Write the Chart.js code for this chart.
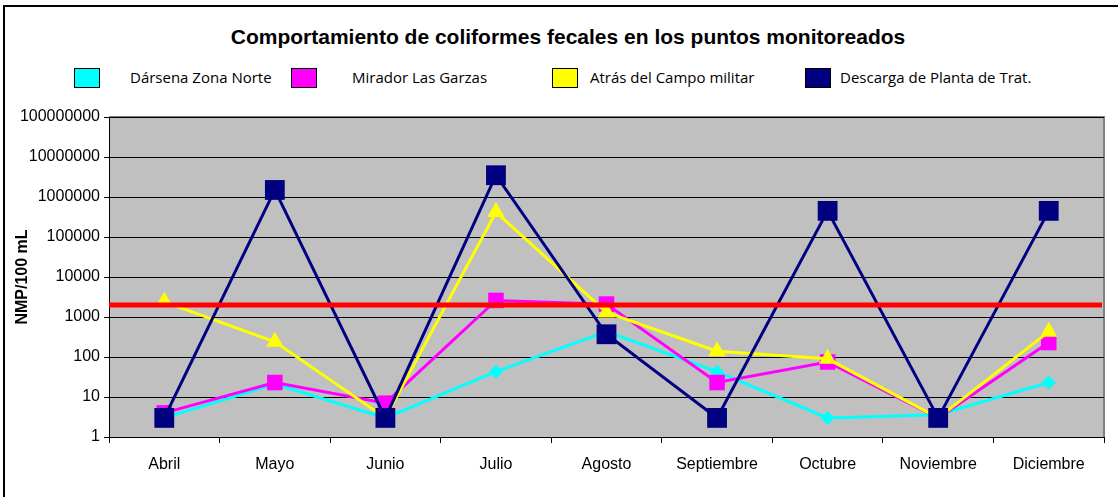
<!DOCTYPE html>
<html>
<head>
<meta charset="utf-8">
<script src="https://cdn.jsdelivr.net/npm/chart.js@4.4.0/dist/chart.umd.min.js"></script>
<style>
  html, body { margin: 0; padding: 0; background: #fff; }
  #wrap { position: relative; width: 1118px; height: 497px; overflow: hidden; }
  #frame { position: absolute; left: 3px; top: 5px; width: 1130px; height: 510px; border-left: 2px solid #000; border-top: 2px solid #000; }
  #title { position: absolute; left: 0; width: 1136px; top: 25px; text-align: center;
           font: bold 21px "Liberation Sans", Arial, sans-serif; color: #000; }
  .leg { position: absolute; top: 67px; font: 15px "Open Sans", "DejaVu Sans", sans-serif; color: #000; white-space: nowrap; }
  .leg i { position: absolute; top: 1px; width: 26px; height: 20px; border: 1px solid #000; box-sizing: border-box; }
  canvas { position: absolute; left: 0; top: 0; }
</style>
</head>
<body>
<div id="wrap">
  <div id="frame"></div>
  <div id="title">Comportamiento de coliformes fecales en los puntos monitoreados</div>
  <div id="legend"></div>
  <canvas id="myChart" width="1118" height="497"></canvas>
</div>
<script>
const meses = ['Abril', 'Mayo', 'Junio', 'Julio', 'Agosto', 'Septiembre', 'Octubre', 'Noviembre', 'Diciembre'];

const darsena = [3, 21, 3, 43, 430, 43, 3, 3.6, 23];
const mirador = [4, 23, 7, 2600, 2100, 23, 75, 3, 230];
const campo = [2400, 240, 3, 420000, 1300, 140, 90, 3, 430];
const descarga = [3, 1500000, 3, 3500000, 370, 3, 450000, 3, 450000];

const limite = 2000;
const yTicks = [1, 10, 100, 1000, 10000, 100000, 1000000, 10000000, 100000000];

const nombres = ['Dársena Zona Norte', 'Mirador Las Garzas', 'Atrás del Campo militar', 'Descarga de Planta de Trat.'];
const colores = ['#00FFFF', '#FF00FF', '#FFFF00', '#000080'];

// legend, html so the spacing matches the excel one
const legX = [[74, 130], [291, 352], [552, 590], [805, 840]];
const legend = document.getElementById('legend');
nombres.forEach((n, i) => {
    const d = document.createElement('div');
    d.className = 'leg';
    d.style.left = legX[i][1] + 'px';
    d.textContent = n;
    const b = document.createElement('i');
    b.style.left = (legX[i][0] - legX[i][1]) + 'px';
    b.style.background = colores[i];
    d.appendChild(b);
    legend.appendChild(d);
});

const lineaLimite = {
    id: 'lineaLimite',
    afterDatasetsDraw(chart) {
        const ctx = chart.ctx;
        const a = chart.chartArea;
        const y = chart.scales.y.getPixelForValue(limite);
        ctx.save();
        ctx.strokeStyle = '#FF0000';
        ctx.lineWidth = 5;
        ctx.beginPath();
        ctx.moveTo(a.left, y);
        ctx.lineTo(a.right - 2, y);
        ctx.stroke();
        ctx.restore();
    }
};

const fondo = {
    id: 'fondo',
    beforeDraw(chart) {
        const ctx = chart.ctx;
        const a = chart.chartArea;
        ctx.save();
        ctx.fillStyle = '#C0C0C0';
        ctx.fillRect(a.left, a.top, a.right - a.left, a.bottom - a.top);
        ctx.strokeStyle = '#808080';
        ctx.lineWidth = 2;
        ctx.beginPath();
        ctx.moveTo(a.left, a.top);
        ctx.lineTo(a.right, a.top);
        ctx.lineTo(a.right, a.bottom);
        ctx.stroke();
        ctx.restore();
    }
};

const ctx = document.getElementById('myChart');

new Chart(ctx, {
    type: 'line',
    data: {
        labels: meses,
        datasets: [{
            label: nombres[0],
            data: darsena,
            borderColor: colores[0],
            backgroundColor: colores[0],
            borderWidth: 3,
            pointStyle: 'rectRot',
            pointRadius: 7,
            pointBorderWidth: 0,
            order: 3
        }, {
            label: nombres[1],
            data: mirador,
            borderColor: colores[1],
            backgroundColor: colores[1],
            borderWidth: 3,
            pointStyle: 'rect',
            pointRadius: 11,
            pointBorderWidth: 0,
            order: 2
        }, {
            label: nombres[2],
            data: campo,
            borderColor: colores[2],
            backgroundColor: colores[2],
            borderWidth: 3,
            pointStyle: 'triangle',
            pointRadius: 10,
            pointBorderWidth: 0,
            order: 1
        }, {
            label: nombres[3],
            data: descarga,
            borderColor: colores[3],
            backgroundColor: colores[3],
            borderWidth: 3,
            pointStyle: 'rect',
            pointRadius: 14,
            pointBorderWidth: 0,
            order: 0
        }]
    },
    options: {
        responsive: false,
        animation: false,
        layout: { padding: { top: 117, right: 13, left: 0, bottom: 0 } },
        plugins: {
            legend: { display: false },
            title: { display: false },
            tooltip: { enabled: false }
        },
        scales: {
            x: {
                offset: true,
                grid: { offset: true, drawOnChartArea: false, color: '#000', tickLength: 6 },
                border: { color: '#000', width: 1 },
                ticks: { color: '#000', padding: 12, font: { family: '"Liberation Sans", Arial', size: 16 } },
                afterFit: (axis) => { axis.height = 60; }
            },
            y: {
                type: 'logarithmic',
                min: 1,
                max: 100000000,
                afterBuildTicks: (axis) => { axis.ticks = yTicks.map(v => ({ value: v })); },
                grid: { color: '#000', lineWidth: 1, tickLength: 5, drawTicks: true },
                border: { color: '#000', width: 1 },
                ticks: {
                    color: '#000',
                    padding: 4,
                    font: { family: '"Liberation Sans", Arial', size: 16 },
                    callback: (v) => String(v)
                },
                title: {
                    display: true,
                    text: 'NMP/100 mL',
                    color: '#000',
                    padding: { top: 13, bottom: 6 },
                    font: { family: '"Liberation Sans", Arial', size: 16, weight: 'bold' }
                },
                afterFit: (axis) => { axis.width = 109; }
            }
        }
    },
    plugins: [fondo, lineaLimite]
});
</script>
</body>
</html>
